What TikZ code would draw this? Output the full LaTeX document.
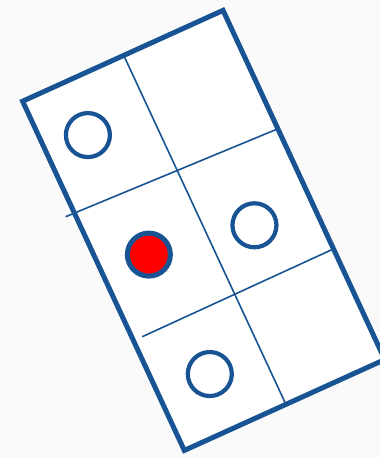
\documentclass[tikz,border=0pt]{standalone}
\usepackage{tikz}
\definecolor{frameblue}{RGB}{24,84,148}
\definecolor{dotred}{RGB}{255,0,0}
\tikzset{
  ring/.style={circle,draw=frameblue,line width=4.2pt,minimum size=44pt,inner sep=0pt,fill=white},
  hitring/.style={ring,fill=dotred,line width=5pt,minimum size=43pt},
  divider/.style={frameblue,line width=1.6pt},
}
\begin{document}
\begin{tikzpicture}[x=1pt,y=1pt]
\useasboundingbox (0,-458) rectangle (380,0);
\fill[black!2] (0,-458) rectangle (380,0);
\clip (0,-458) rectangle (380,0);
% tilted board, local units along the short and the long side
\begin{scope}[shift={(19.3,-100)},x={(0.911pt,0.413pt)},y={(0.42pt,-0.907pt)}]
\fill[white] (2.5,2.5)--(222.5,2.5)--(222.5,387.5)--(2.5,387.5)--cycle;
\draw[divider] (113.5,2)--(114,388);
\draw[divider] (-7,125.5)--(221,133);
\draw[divider] (12,266.5)--(223,265.5);
\draw[frameblue,line width=5pt,line join=miter] (2.5,2.5)--(222.5,2.5)--(222.5,387.5)--(2.5,387.5)--cycle;
\node[ring] (c1) at (47.5,60.3) {};
\node[hitring] (c2) at (52.6,194.4) {};
\node[ring] (c3) at (160.7,211.3) {};
\node[ring] (c4) at (57.7,328.4) {};
\end{scope}
\end{tikzpicture}
\end{document}
